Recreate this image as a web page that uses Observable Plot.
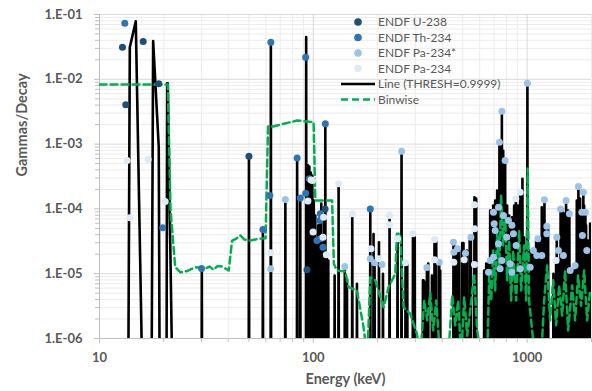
<!DOCTYPE html>
<html><head><meta charset="utf-8">
<script src="https://cdn.jsdelivr.net/npm/d3@7"></script>
<script src="https://cdn.jsdelivr.net/npm/@observablehq/plot@0.6"></script>
<style>
body{margin:0;background:#fff;}
#wrap{position:relative;width:592px;height:391px;overflow:hidden;}
#wrap svg{position:absolute;left:0;top:0;}
</style></head><body><div id="wrap"></div>
<script>
// ---- tick labels / grid positions
const xTicks = [10, 100, 1000];
const yTicks = [1e-6, 1e-5, 1e-4, 1e-3, 1e-2, 1e-1];
const xMinor = [20,30,40,50,60,70,80,90,200,300,400,500,600,700,800,900,2000];
const yMinor = [];
[1e-6,1e-5,1e-4,1e-3,1e-2].forEach(p => [2,3,4,5,6,7,8,9].forEach(m => yMinor.push(m*p)));

// ---- ENDF point series [energy keV, gammas/decay]
const u238 = [[12.81,0.0313],[13.27,4.04e-3],[16.01,0.0383],[18.93,8.52e-3],[50.0,6.5e-4],[93.4,1.15e-5],[113.5,1.0e-4]];
const th234 = [[13.13,0.0734],[19.76,5.11e-5],[30.0,1.2e-5],[58.1,4.8e-5],[63.3,0.0374],[62.6,1.61e-4],[84.0,6.1e-4],[86.9,1.47e-4],[92.1,0.0219],[92.1,1.75e-4],[95.8,2.92e-4],[104.0,3.25e-5],[107.8,8.4e-5],[107.0,6.6e-5],[107.8,3.46e-5],[111.0,2.56e-5],[113.8,2.06e-3],[184.7,1.0e-4]];
const pa234m = [[63.2,1.19e-5],[74.0,1.40e-4],[140.4,1.29e-5],[184.7,1.70e-5],[193.4,1.47e-5],[209.4,1.39e-5],[258.6,7.76e-4],[339.9,1.25e-5],[388.0,1.5e-5],[452.4,3.06e-5],[454,2.15e-5],[472.3,2.42e-5],[514.8,2.07e-5],[545.8,3.66e-5],[742.2,1.07e-3],[761.8,3.22e-3],[789,5.58e-4],[695.9,8.9e-5],[701.2,5.9e-5],[708.8,4.64e-5],[734.5,1.06e-4],[775.2,7.9e-5],[817.9,6.6e-5],[848.4,5.6e-5],[803.1,3.66e-5],[863.0,4.13e-5],[888.4,2.72e-5],[671.7,1.6e-5],[659.6,1.05e-5],[695.9,1.8e-5],[761.8,1.6e-5],[734.5,2.9e-5],[747.7,1.19e-5],[833.1,1.42e-5],[927.7,1.19e-5],[848.4,1.05e-5],[1003,8.7e-3],[1122,3.46e-5],[1205,1.38e-4],[1236,5.4e-5],[1434,1.0e-4],[1521,1.35e-4],[1576,8.4e-5],[1737,2.22e-4],[1832,1.81e-4],[1802,8.9e-5],[1873,8.9e-5],[1376,3.66e-5],[1400,2.28e-5],[1478,1.91e-5],[1589,1.12e-5],[1813,3.89e-5],[1901,2.28e-5],[1676,1.34e-5],[1070,2.28e-5],[1110,1.91e-5],[1033,1.26e-5],[1171,1.91e-5],[1236,4.13e-5]];
const pa234 = [[13.47,5.58e-4],[16.89,5.78e-4],[13.86,7.29e-5],[20.28,1.3e-4],[63.2,2.1e-5],[94.4,1.32e-4],[97.6,2.8e-4],[99.2,2.75e-4],[111.7,7.4e-5],[99.7,4.4e-5],[111.0,3.66e-5],[115.0,1.96e-5],[131.3,2.44e-4],[152.1,8.4e-5],[186.1,2.42e-5],[202.8,1.70e-5],[227.3,7.9e-5],[227.3,5.7e-5],[247.7,3.46e-5],[270.0,1.47e-5],[292.4,4.13e-5],[368.8,3.37e-5],[368.8,1.64e-5],[454,1.5e-5],[507.7,1.64e-5],[567.2,1.16e-4],[567.2,4.93e-5],[567.2,1.39e-5],[885.6,1.43e-4],[927.7,1.81e-4],[1366,1.6e-5]];

// ---- Line (THRESH=0.9999): low-energy points as read, then isolated spikes
const lowLineE = [13.62,13.86,14.78,15.94,17.50,17.82,18.93,19.13,20.57,20.72,20.86,22.0];
const lowLineV = [1e-7,0.0313,0.0788,1e-7,1e-7,0.0388,8.95e-4,1e-7,1e-7,8.71e-3,8.71e-3,1e-7];
const spikes = [[30.1,1.2e-5],[50.0,6.5e-4],[58.1,4.8e-5],[63.3,0.0374],[74.0,1.40e-4],[84.0,6.1e-4],[86.9,1.47e-4],[92.6,0.0447],[94.3,4.7e-4],[95.8,4.5e-4],[97.3,3.65e-4],[98.9,3.27e-4],[100.5,1.35e-4],[102.2,7.9e-5],[104.0,3.25e-5],[105.5,5.6e-5],[107.8,8.4e-5],[109.0,1.21e-4],[111.0,3.66e-5],[112.6,7.4e-5],[113.8,2.06e-3],[115.6,1.96e-5],[117.5,1.6e-5],[125.8,9.4e-6],[131.3,2.44e-4],[140.4,1.29e-5],[143.7,8.3e-6],[152.1,8.4e-5],[160.0,7.0e-6],[184.7,1.0e-4],[191.3,4.1e-5],[193.4,1.47e-5],[202.8,3.06e-5],[211.7,1.0e-5],[227.3,7.9e-5],[247.7,3.46e-5],[258.6,7.76e-4],[270.0,1.47e-5],[275.0,1.47e-5],[292.4,4.13e-5],[298.1,3.89e-5],[325.6,7.9e-6],[327.7,7.9e-6],[333.8,7.4e-6],[339.9,1.25e-5],[344.7,1.44e-5],[358.7,9.4e-6],[368.8,3.37e-5],[375.7,3.46e-5],[388.0,1.5e-5],[392.2,1.12e-5],[452.4,3.06e-5],[456.0,3.25e-5],[460.9,2.05e-5],[472.3,2.42e-5],[481.2,2.28e-5],[497.0,2.96e-5],[503.8,2.96e-5],[514.8,2.07e-5],[522.6,2.28e-5],[538.7,3.6e-5],[545.8,3.66e-5],[567.2,1.51e-4],[577.8,1.45e-4],[629.7,1.12e-5],[643.4,1.44e-5],[657.4,1.44e-5],[659.6,1.05e-5],[671.7,9.4e-5],[679,9.4e-5],[686.2,9.4e-5],[693.7,1.13e-4],[701.2,8.5e-5],[708.8,1.35e-4],[716.4,1.13e-4],[724.2,1.92e-4],[732.0,1.35e-4],[742.2,1.07e-3],[747.9,5.0e-4],[761.8,3.22e-3],[772.8,7.96e-4],[780.8,3.0e-4],[789,5.58e-4],[797.8,7.4e-5],[806.3,1.13e-4],[815.1,7.4e-5],[824.0,7.9e-5],[832.9,5.6e-5],[841.9,4.64e-5],[851.0,7.4e-5],[860.2,5.6e-5],[869.5,1.13e-4],[885.6,1.43e-4],[907.8,1.13e-4],[927.7,1.81e-4],[950.7,2.92e-4],[968.3,3.6e-5],[989.2,2.28e-5],[1003,8.7e-3],[1033,2.28e-5],[1055.3,2.05e-5],[1078.2,2.28e-5],[1101.7,3.25e-5],[1122,3.46e-5],[1150.1,3.25e-5],[1171,1.06e-4],[1205,1.38e-4],[1236,5.4e-5],[1253.5,5.6e-5],[1327,1.0e-5],[1366,1.6e-5],[1376,3.66e-5],[1396,1.6e-5],[1434,1.0e-4],[1458,1.0e-4],[1478,4.64e-5],[1489,8.5e-5],[1521,1.35e-4],[1555,9.4e-5],[1576,8.4e-5],[1589,1.12e-5],[1623,1.12e-5],[1658,1.12e-5],[1694,1.12e-5],[1707,1.35e-4],[1737,2.22e-4],[1769,1.45e-4],[1802,8.9e-5],[1832,1.81e-4],[1847,1.13e-4],[1873,8.9e-5],[1887,5.6e-5],[1928,3.25e-5],[1970,5.96e-5]];

// ---- Binwise
const binE = [10.0,20.86,21.5,22.6,23.9,25.7,28.1,31.3,32.7,34.2,35.6,37.4,40.2,41.7,43.7,45.6,47.6,50.8,55.5,59.8,61.4,64.8,83.9,100.3,102.2,122.4,124.8,129.0,141.1,146.2,160.0,171.8,178.8,184.7,194.9,213.1,224.9,241.7,246.1,255.0,264.2,284.1,305.2,316.2,330.1,341.0,352.2,363.7,375.7,392.2,427.4,446.2,460.9,476.0,491.6,507.7,524.3,541.5,565.3,584.0,609.6,650.3,664.5,679.0,693.7,708.8,724.2,740.0,756.0,772.8,789.5,806.3,824.0,841.9,860.2,888.4,917.5,937.6,968.3,989.2,1005.4,1021.6,1055.3,1090,1163,1201,1240.6,1281,1323,1366,1411,1458,1505,1555,1623,1676,1731,1788,1847,1908,1970];
const binV = [8.32e-3,8.32e-3,9.4e-5,1.26e-5,1.05e-5,1.1e-5,1.26e-5,1.2e-5,1.29e-5,1.15e-5,1.31e-5,1.29e-5,1.12e-5,3.25e-5,3.49e-5,3.89e-5,3.37e-5,3.25e-5,3.46e-5,3.53e-5,1.87e-3,1.87e-3,2.31e-3,2.18e-3,1.35e-4,1.35e-4,1.42e-5,1.12e-5,1.08e-5,6.2e-6,5.5e-6,1.49e-6,5e-7,8.8e-6,7.9e-6,3.04e-6,6.2e-6,1.0e-5,4.13e-5,4.13e-5,3.04e-6,2.4e-6,1.18e-6,5e-7,3.86e-6,1.9e-6,5.1e-6,1.33e-6,3.86e-6,5e-7,5e-7,4.6e-6,1.6e-6,3.86e-6,5e-7,4.3e-6,1.1e-6,2.7e-6,1.0e-5,1.33e-6,5e-7,5e-7,9.4e-6,3.86e-6,2.28e-5,5.5e-6,4.64e-5,1.12e-5,1.61e-4,2.72e-5,7.9e-5,7.9e-6,3.25e-5,3.86e-6,2.28e-5,3.86e-6,4.64e-5,5.5e-6,2.72e-5,3.86e-6,4.2e-4,3.86e-6,1.33e-6,5e-7,5e-7,3.86e-6,1.34e-5,1.9e-6,7.9e-6,1.6e-6,6.6e-6,2.26e-6,1.12e-5,1.33e-6,6.6e-6,1.9e-6,9.4e-6,3.2e-6,1.12e-5,1.9e-6,5.5e-6];

const cU = "#1f4e79", cTh = "#2e75b6", cPm = "#9dc3e6", cP = "#deebf7", cBin = "#00b050";
const FLOOR = 1e-7;

const lineData = lowLineE.map((e, i) => ({E: e, V: lowLineV[i]}));
spikes.forEach(([e, v]) => lineData.push({E: e * 0.997, V: FLOOR}, {E: e, V: v}, {E: e * 1.003, V: FLOOR}));
lineData.sort((a, b) => a.E - b.E);
const binData = binE.map((e, i) => ({E: e, V: binV[i]}));

const fmtE = d => { const e = Math.round(Math.log10(d)); return "1.E" + (e < 0 ? "-" : "+") + String(Math.abs(e)).padStart(2, "0"); };
const font = "Lato, 'Open Sans', sans-serif";
const dotOpts = c => ({x: d => d[0], y: d => d[1], r: 3.5, fill: c, stroke: "none"});

const chart = Plot.plot({
  width: 592, height: 391,
  marginLeft: 99, marginRight: 1, marginTop: 14, marginBottom: 53,
  style: {fontFamily: font, background: "white", color: "#595959", overflow: "visible"},
  x: {type: "log", domain: [10, 2000]},
  y: {type: "log", domain: [1e-6, 0.1]},
  marks: [
    Plot.gridX(xMinor, {stroke: "#ececec", strokeOpacity: 1}),
    Plot.gridY(yMinor, {stroke: "#ececec", strokeOpacity: 1}),
    Plot.gridX(xTicks, {stroke: "#d9d9d9", strokeOpacity: 1}),
    Plot.gridY(yTicks, {stroke: "#d9d9d9", strokeOpacity: 1}),
    Plot.axisX(xMinor, {tickSize: 4, stroke: "#bfbfbf", tickFormat: () => "", label: null}),
    Plot.axisY(yMinor, {tickSize: 4, stroke: "#bfbfbf", tickFormat: () => "", label: null}),
    Plot.axisX(xTicks, {tickSize: 5, tickPadding: 9, stroke: "#bfbfbf", fill: "#595959", tickFormat: d => String(d), fontSize: 13, fontWeight: "bold", label: null}),
    Plot.axisY(yTicks, {tickSize: 5, tickPadding: 12, stroke: "#bfbfbf", fill: "#595959", tickFormat: fmtE, fontSize: 13, fontWeight: "bold", label: null}),
    Plot.ruleX([10], {stroke: "#bfbfbf"}),
    Plot.ruleY([1e-6], {stroke: "#bfbfbf"}),
    Plot.line(lineData, {x: "E", y: "V", stroke: "black", strokeWidth: 2.6, clip: true}),
    Plot.line(binData, {x: "E", y: "V", stroke: cBin, strokeWidth: 2.5, strokeDasharray: "7,4", clip: true}),
    Plot.dot(u238, dotOpts(cU)),
    Plot.dot(th234, dotOpts(cTh)),
    Plot.dot(pa234m, dotOpts(cPm)),
    Plot.dot(pa234, dotOpts(cP)),
    Plot.text(["Gammas/Decay"], {frameAnchor: "left", dx: -77, rotate: -90, fontSize: 14.5, fontWeight: "bold", fill: "#595959"}),
    Plot.text(["Energy (keV)"], {frameAnchor: "bottom", dy: 45, fontSize: 14.5, fontWeight: "bold", fill: "#595959"})
  ]
});
const wrap = document.getElementById("wrap");
wrap.appendChild(chart);

// ---- legend (inside plot area, top right)
const legendItems = [
  {label: "ENDF U-238", kind: "dot", color: cU},
  {label: "ENDF Th-234", kind: "dot", color: cTh},
  {label: "ENDF Pa-234*", kind: "dot", color: cPm},
  {label: "ENDF Pa-234", kind: "dot", color: cP},
  {label: "Line (THRESH=0.9999)", kind: "line", color: "black"},
  {label: "Binwise", kind: "dash", color: cBin}
];
const lg = d3.select(wrap).append("svg").attr("width", 592).attr("height", 391)
  .style("pointer-events", "none").style("font-family", font);
legendItems.forEach((it, i) => {
  const y = 22 + i * 15.5;
  if (it.kind === "dot") lg.append("circle").attr("cx", 358).attr("cy", y).attr("r", 3.8).attr("fill", it.color);
  else lg.append("line").attr("x1", 341).attr("x2", 375).attr("y1", y).attr("y2", y)
    .attr("stroke", it.color).attr("stroke-width", 2.5).attr("stroke-dasharray", it.kind === "dash" ? "7,4" : null);
  lg.append("text").attr("x", 378).attr("y", y).attr("dy", "0.35em").attr("font-size", 12).attr("fill", "#595959").text(it.label);
});
</script></body></html>
